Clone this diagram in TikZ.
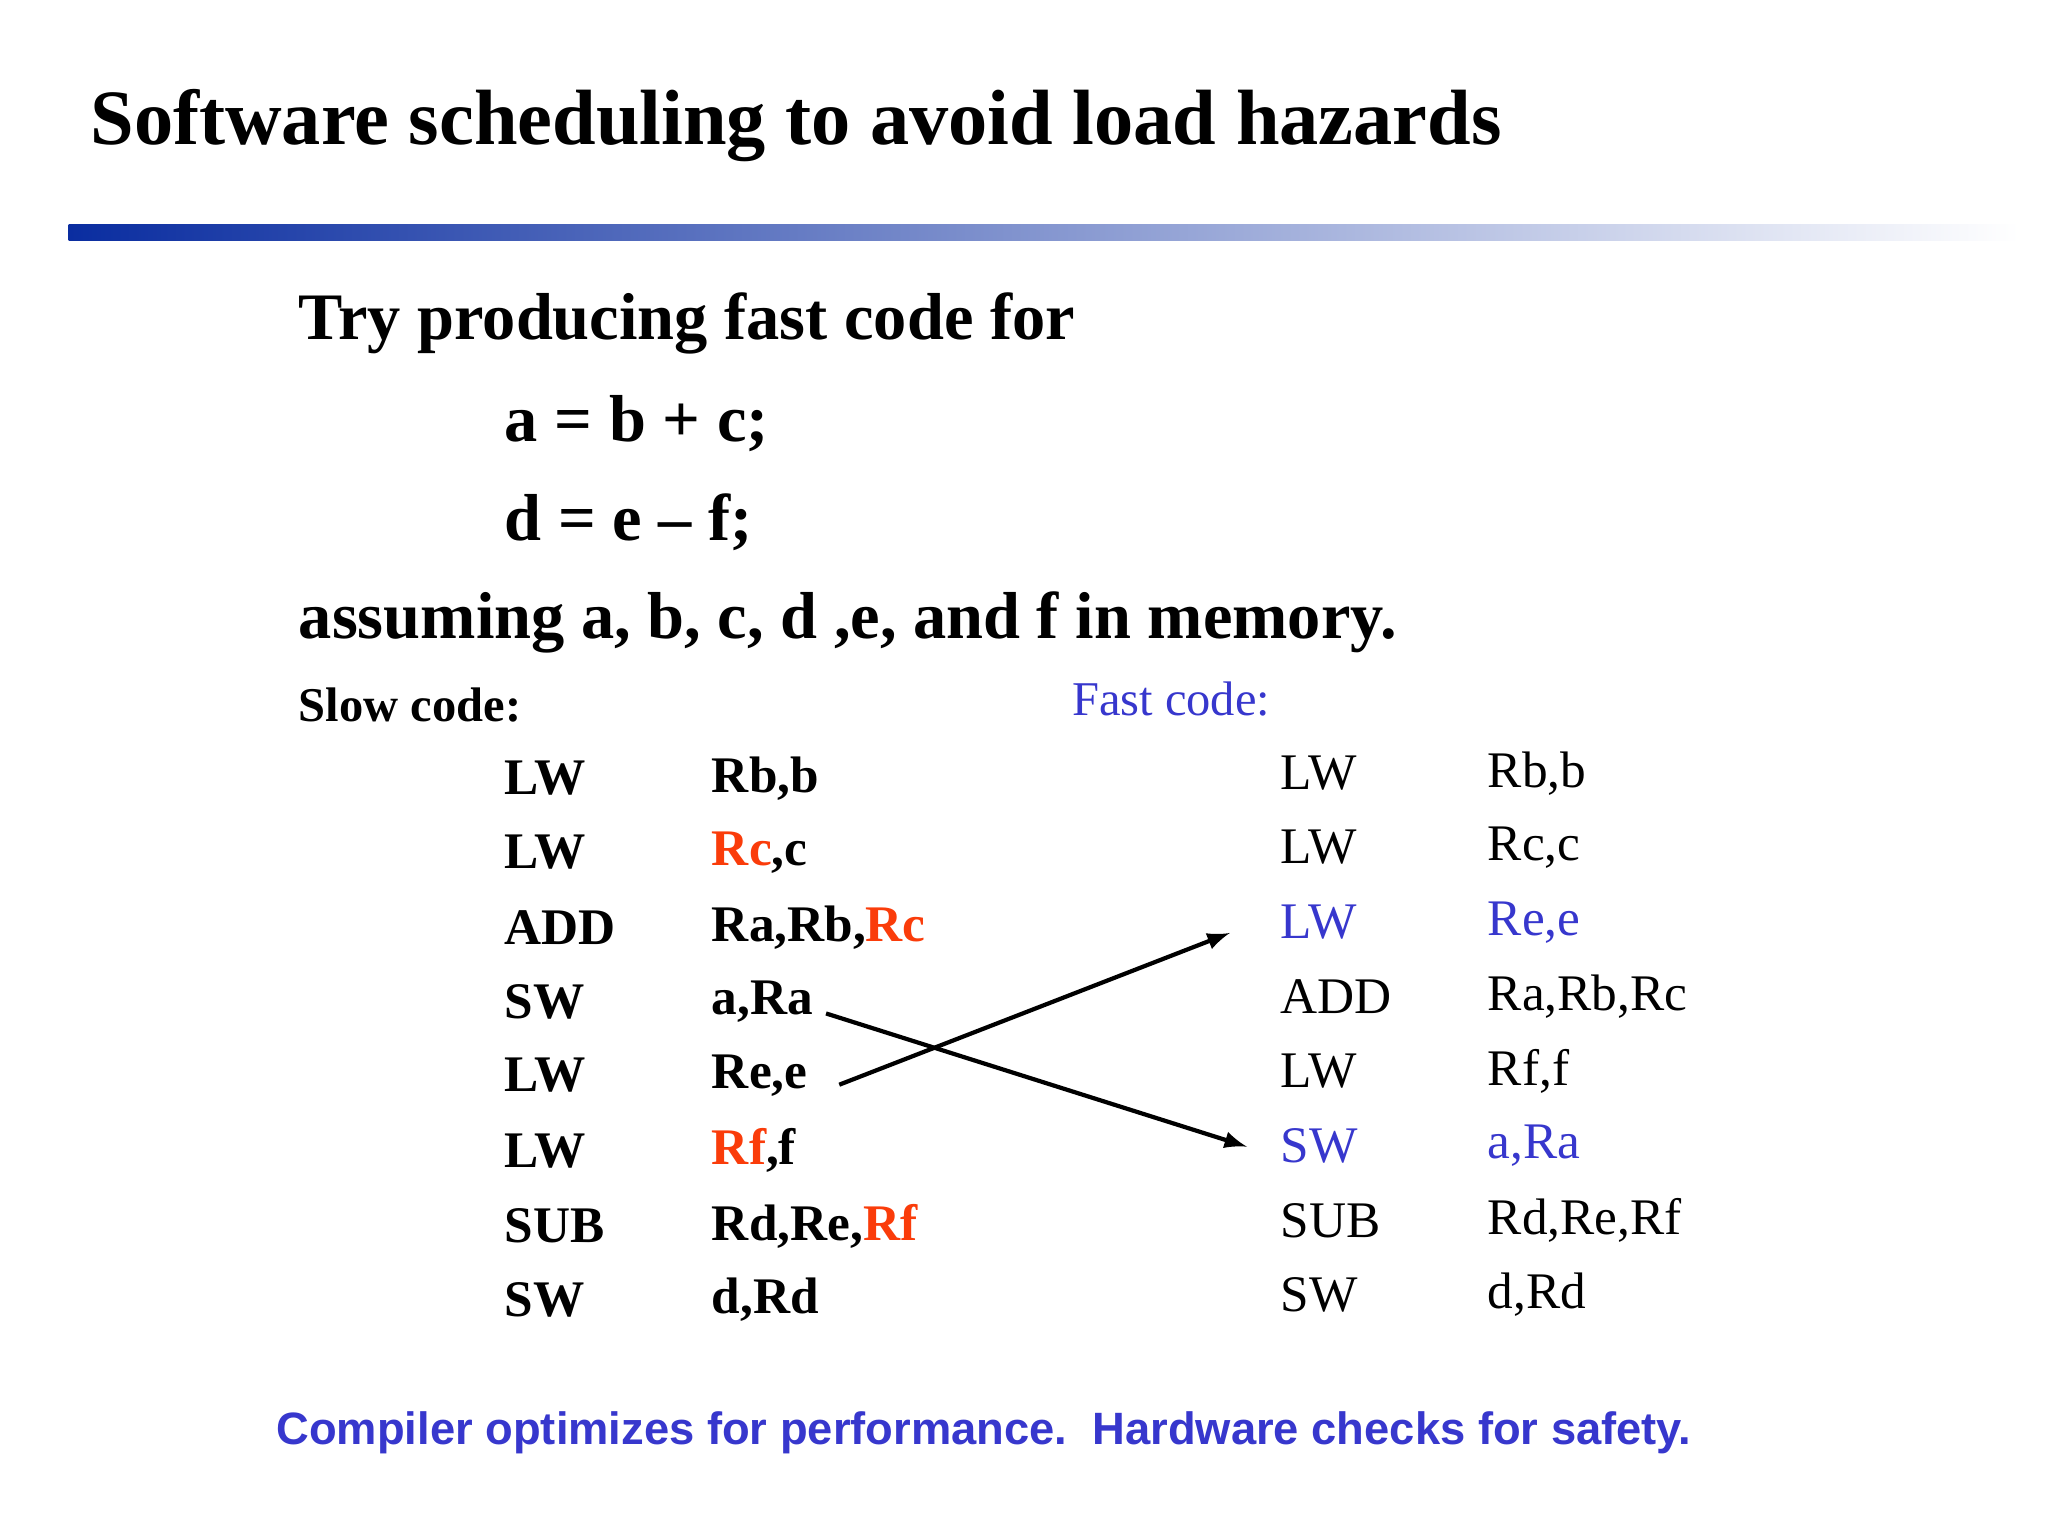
\documentclass[tikz,border=0pt]{standalone}
\usepackage{fontspec}
\setmainfont{Liberation Serif}
\newfontfamily\arialf{Liberation Sans}
\definecolor{hred}{RGB}{250,60,10}
\definecolor{fblue}{RGB}{55,55,205}
\definecolor{barblue}{RGB}{10,45,160}
\begin{document}
\begin{tikzpicture}[x=0.0132cm,y=-0.0132cm,
  txt/.style={anchor=west,inner sep=0pt},
  slow/.style={txt,font=\fontsize{14.6}{16}\selectfont\bfseries},
  fast/.style={txt,font=\fontsize{14.6}{16}\selectfont},
  arr/.style={-latex,line width=1.2pt}]
\useasboundingbox (0,0) rectangle (1552,1164);
\fill[white] (0,0) rectangle (1552,1164);
\node[txt,font=\fontsize{22.3}{24}\selectfont\bfseries] (title) at (68,95) {Software scheduling to avoid load hazards};
\shade[left color=barblue,right color=white] (52,170) rectangle (1530,182);
\node[txt,font=\fontsize{18.9}{21}\selectfont\bfseries] (try) at (226,245) {Try producing fast code for};
\node[txt,font=\fontsize{18.9}{21}\selectfont\bfseries] (e1) at (382,321) {a = b + c;};
\node[txt,font=\fontsize{18.9}{21}\selectfont\bfseries] (e2) at (382,396) {d = e -- f;};
\node[txt,font=\fontsize{18.9}{21}\selectfont\bfseries] (ass) at (226,472) {assuming a, b, c, d ,e, and f in memory.};
\node[txt,font=\fontsize{13.8}{16}\selectfont\bfseries] (slowh) at (226,534) {Slow code:};
\node[txt,font=\fontsize{13.8}{16}\selectfont,text=fblue] (fasth) at (812,530) {Fast code:};
% slow code
\node[slow] (s1o) at (382,590) {LW};  \node[slow] (s1a) at (539,590) {Rb,b};
\node[slow] (s2o) at (382,646) {LW};  \node[slow] (s2a) at (539,646) {\textcolor{hred}{Rc},c};
\node[slow] (s3o) at (382,703) {ADD}; \node[slow] (s3a) at (539,703) {Ra,Rb,\textcolor{hred}{Rc}};
\node[slow] (s4o) at (382,759) {SW};  \node[slow] (s4a) at (539,759) {a,Ra};
\node[slow] (s5o) at (382,815) {LW};  \node[slow] (s5a) at (539,815) {Re,e};
\node[slow] (s6o) at (382,872) {LW};  \node[slow] (s6a) at (539,872) {\textcolor{hred}{Rf},f};
\node[slow] (s7o) at (382,929) {SUB}; \node[slow] (s7a) at (539,929) {Rd,Re,\textcolor{hred}{Rf}};
\node[slow] (s8o) at (382,985) {SW};  \node[slow] (s8a) at (539,985) {d,Rd};
% fast code
\node[fast] (f1o) at (970,586) {LW};  \node[fast] (f1a) at (1127,586) {Rb,b};
\node[fast] (f2o) at (970,642) {LW};  \node[fast] (f2a) at (1127,642) {Rc,c};
\node[fast,text=fblue] (f3o) at (970,699) {LW};  \node[fast,text=fblue] (f3a) at (1127,699) {Re,e};
\node[fast] (f4o) at (970,755) {ADD}; \node[fast] (f4a) at (1127,755) {Ra,Rb,Rc};
\node[fast] (f5o) at (970,812) {LW};  \node[fast] (f5a) at (1127,812) {Rf,f};
\node[fast,text=fblue] (f6o) at (970,868) {SW};  \node[fast,text=fblue] (f6a) at (1127,868) {a,Ra};
\node[fast] (f7o) at (970,925) {SUB}; \node[fast] (f7a) at (1127,925) {Rd,Re,Rf};
\node[fast] (f8o) at (970,981) {SW};  \node[fast] (f8a) at (1127,981) {d,Rd};
\coordinate (a1s) at (636,822); \coordinate (a1e) at (932,707);
\coordinate (a2s) at (626,768); \coordinate (a2e) at (945,869);
\draw[arr] (a1s) -- (a1e);
\draw[arr] (a2s) -- (a2e);
\node[txt,font=\arialf\fontsize{12.9}{14}\selectfont\bfseries,text=fblue] (foot) at (209,1086) {Compiler optimizes for performance.\ \ Hardware checks for safety.};
\end{tikzpicture}
\end{document}
